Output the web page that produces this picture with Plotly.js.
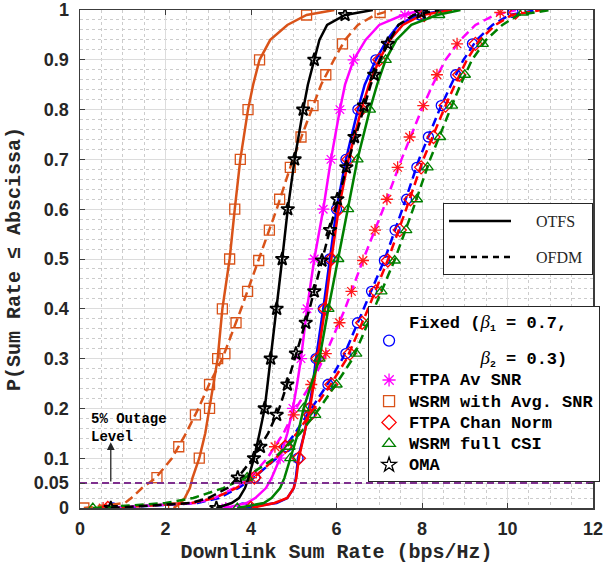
<!DOCTYPE html>
<html><head><meta charset="utf-8">
<script src="https://cdn.plot.ly/plotly-3.0.1.min.js"></script>
<style>html,body{margin:0;padding:0;background:#fff}#chart{width:608px;height:564px}</style>
</head><body><div id="chart"></div>
<script>
// Probability levels at which curve x values were read
const P_LINE = [0,0.01,0.02,0.04,0.06,0.1,0.15,0.2,0.25,0.3,0.4,0.5,0.6,0.7,0.8,0.85,0.9,0.94,0.97,0.99,1];
const P_MARK_OTFS = [0,0.1,0.2,0.3,0.4,0.5,0.6,0.7,0.8,0.9,0.99];
const P_MARK_OFDM = [0,0.061,0.123,0.187,0.248,0.31,0.372,0.435,0.497,0.558,0.62,0.684,0.745,0.808,0.87,0.932,0.995];

// Sum rate (bps/Hz) at P_LINE levels
const fixedOTFS   = [3.81,4.6,4.85,5.0,5.05,5.1,5.25,5.36,5.45,5.52,5.69,5.84,6.0,6.22,6.5,6.66,6.92,7.18,7.45,7.9,8.6];
const fixedOFDM   = [0.77,2.75,3.25,3.7,4.05,4.6,5.03,5.42,5.8,6.14,6.64,7.13,7.54,7.93,8.41,8.68,8.97,9.28,9.65,10.05,10.7];
const ftpaAvOTFS  = [3.41,3.9,4.1,4.35,4.48,4.68,4.85,4.98,5.08,5.17,5.31,5.48,5.69,5.87,6.08,6.2,6.4,6.68,7.0,7.55,8.0];
const ftpaAvOFDM  = [0.54,2.7,3.15,3.6,3.98,4.38,4.76,5.05,5.41,5.7,6.2,6.63,7.09,7.52,7.99,8.25,8.55,8.9,9.25,9.7,10.2];
const wsrmAvOTFS  = [2.19,2.35,2.45,2.57,2.63,2.79,2.93,3.03,3.13,3.22,3.33,3.5,3.62,3.75,3.93,4.05,4.2,4.45,4.85,5.3,5.95];
const wsrmAvOFDM  = [0.09,1.05,1.2,1.45,1.77,2.15,2.48,2.77,3.03,3.33,3.77,4.19,4.6,4.98,5.42,5.64,5.94,6.2,6.5,6.9,7.3];
const ftpaCnOTFS  = [4.0,4.55,4.85,5.0,5.06,5.12,5.25,5.38,5.47,5.56,5.73,5.88,6.05,6.28,6.58,6.76,7.0,7.25,7.55,8.0,8.7];
const ftpaCnOFDM  = [0.65,2.6,3.15,3.65,4.05,4.58,5.07,5.48,5.88,6.24,6.74,7.21,7.63,8.03,8.51,8.77,9.05,9.35,9.72,10.1,10.8];
const wsrmCsiOTFS = [3.68,4.3,4.48,4.68,4.78,4.92,5.1,5.23,5.42,5.6,5.81,6.04,6.27,6.49,6.78,6.95,7.15,7.4,7.75,8.35,8.9];
const wsrmCsiOFDM = [0.3,2.0,2.65,3.35,3.85,4.55,5.15,5.6,6.0,6.38,6.88,7.37,7.79,8.19,8.66,8.9,9.17,9.5,9.88,10.25,11.0];
const omaOTFS     = [3.19,3.55,3.72,3.86,3.94,4.07,4.2,4.32,4.39,4.46,4.6,4.73,4.86,5.02,5.22,5.33,5.48,5.6,5.78,6.2,6.85];
const omaOFDM     = [0.72,2.6,3.0,3.45,3.68,4.05,4.4,4.66,4.85,5.02,5.37,5.67,5.97,6.29,6.62,6.8,7.02,7.25,7.45,7.8,8.4];

// Marker positions (sum rate at P_MARK_* levels)
const fixedOTFS_m   = [3.81,5.1,5.36,5.52,5.69,5.84,6.0,6.22,6.5,6.92,7.95];
const fixedOFDM_m   = [0.77,4.09,4.83,5.37,5.8,6.22,6.49,6.82,7.12,7.37,7.64,7.88,8.15,8.45,8.79,9.18,10.13];
const ftpaAvOTFS_m  = [3.41,4.68,4.98,5.17,5.31,5.48,5.69,5.87,6.08,6.4,7.6];
const ftpaAvOFDM_m  = [0.54,4.0,4.56,5.0,5.41,5.75,6.07,6.35,6.62,6.9,7.18,7.43,7.71,8.03,8.35,8.82,9.83];
const wsrmAvOTFS_m  = [2.19,2.79,3.03,3.22,3.33,3.5,3.62,3.75,3.93,4.2,5.3];
const wsrmAvOFDM_m  = [0.09,1.8,2.31,2.7,3.03,3.39,3.65,3.92,4.18,4.43,4.67,4.92,5.17,5.45,5.75,6.14,7.02];
const ftpaCnOTFS_m  = [4.0,5.12,5.38,5.56,5.73,5.88,6.05,6.28,6.58,7.0,8.05];
const ftpaCnOFDM_m  = [0.65,4.08,4.8,5.38,5.88,6.31,6.6,6.92,7.2,7.48,7.73,7.98,8.27,8.55,8.87,9.25,10.19];
const wsrmCsiOTFS_m = [3.68,4.92,5.23,5.6,5.81,6.04,6.27,6.49,6.78,7.15,8.4];
const wsrmCsiOFDM_m = [0.3,3.91,4.9,5.5,6.0,6.46,6.75,7.05,7.36,7.63,7.88,8.13,8.42,8.7,9.0,9.42,10.36];
const omaOTFS_m     = [3.19,4.07,4.32,4.46,4.6,4.73,4.86,5.02,5.22,5.48,6.2];
const omaOFDM_m     = [0.72,3.69,4.22,4.6,4.85,5.05,5.28,5.48,5.66,5.85,6.02,6.23,6.42,6.64,6.88,7.2,7.98];

const OUTAGE = 0.05;
const X_RANGE = [0, 12];
const X_TICKS = [0,2,4,6,8,10,12];
const Y_TICKS = [0,0.05,0.1,0.2,0.3,0.4,0.5,0.6,0.7,0.8,0.9,1];
const Y_TICKTEXT = ['0','0.05','0.1','0.2','0.3','0.4','0.5','0.6','0.7','0.8','0.9','1'];

const BETA = '<span style="font-family:Liberation Serif;font-style:italic;font-weight:normal;font-size:19px">β</span>';
const NB = '\u00A0';
function big(t){ return '<span style="font-size:17px">' + t + '</span>'; }
const SCHEMES = [
  {name: big('Fixed (') + BETA + '<sub>1</sub>' + big(' = 0.7,') + '<br>' + NB + '<br>' + big(NB.repeat(7)) + BETA + '<sub>2</sub>' + big(' = 0.3)'),
   color:'#0000FF', symbol:'circle-open', otfs:[fixedOTFS,fixedOTFS_m], ofdm:[fixedOFDM,fixedOFDM_m], ofdmMarker:'#0000FF'},
  {name:big('FTPA Av SNR'), color:'#FF00FF', symbol:'asterisk-open', otfs:[ftpaAvOTFS,ftpaAvOTFS_m], ofdm:[ftpaAvOFDM,ftpaAvOFDM_m], ofdmMarker:'#FF1A1A'},
  {name:big('WSRM with Avg. SNR'), color:'#D95319', symbol:'square-open', otfs:[wsrmAvOTFS,wsrmAvOTFS_m], ofdm:[wsrmAvOFDM,wsrmAvOFDM_m], ofdmMarker:'#D95319'},
  {name:big('FTPA Chan Norm'), color:'#FF0000', symbol:'diamond-open', otfs:[ftpaCnOTFS,ftpaCnOTFS_m], ofdm:[ftpaCnOFDM,ftpaCnOFDM_m], ofdmMarker:'#FF0000'},
  {name:big('WSRM full CSI'), color:'#008000', symbol:'triangle-up-open', otfs:[wsrmCsiOTFS,wsrmCsiOTFS_m], ofdm:[wsrmCsiOFDM,wsrmCsiOFDM_m], ofdmMarker:'#008000'},
  {name:big('OMA'), color:'#000000', symbol:'star-open', otfs:[omaOTFS,omaOTFS_m], ofdm:[omaOFDM,omaOFDM_m], ofdmMarker:'#000000'}
];

const DASH = '9px,5px';
const traces = [];
SCHEMES.forEach(s => {
  [['otfs','solid',s.color,P_MARK_OTFS],['ofdm',DASH,s.ofdmMarker,P_MARK_OFDM]].forEach(([k,dash,mc,pm]) => {
    traces.push({x:s[k][0], y:P_LINE, type:'scatter', mode:'lines', showlegend:false, hoverinfo:'skip',
      line:{color:s.color, width:2.5, dash:dash}});
    traces.push({x:s[k][1], y:pm, type:'scatter', mode:'markers', showlegend:false, hoverinfo:'skip',
      marker:{symbol:s.symbol, size:10, color:mc, line:{width:s.symbol==='star-open'?1.8:1.3, color:mc}}});
  });
});
// outage level line
traces.push({x:X_RANGE, y:[OUTAGE,OUTAGE], type:'scatter', mode:'lines', showlegend:false, hoverinfo:'skip',
  line:{color:'#7E2F8E', width:2, dash:'7px,4px'}});
// legend 1: schemes (markers only)
SCHEMES.forEach(s => {
  traces.push({x:[null], y:[null], type:'scatter', mode:'markers', name:s.name, legend:'legend',
    marker:{symbol:s.symbol, size:11, color:s.color, line:{width:1.3, color:s.color}}});
});
// legend 2: waveforms (lines only)
traces.push({x:[null], y:[null], type:'scatter', mode:'lines', name:NB.repeat(5)+'OTFS'+NB, legend:'legend2', legendgroup:'a', line:{color:'#000', width:2.5}});
traces.push({x:[null], y:[null], type:'scatter', mode:'lines', name:NB.repeat(5)+'OFDM'+NB, legend:'legend2', legendgroup:'b', line:{color:'#000', width:2.5, dash:'6px,5px'}});

const axisCommon = {
  showgrid:true, gridcolor:'#dcdcdc', gridwidth:1, zeroline:false,
  showline:true, linecolor:'#3c3c3c', linewidth:1.5, mirror:'ticks',
  ticks:'inside', ticklen:5, tickwidth:1, tickcolor:'#3c3c3c', ticklabeloverflow:'allow',
  tickfont:{family:'Liberation Sans', size:18, weight:'bold', color:'#262626'}
};
const titleFont = {family:'Liberation Mono', size:20, weight:'bold', color:'#262626'};

const layout = {
  width:608, height:564,
  margin:{l:80, r:8, t:10, b:56, pad:0},
  paper_bgcolor:'#ffffff', plot_bgcolor:'#ffffff',
  showlegend:true,
  xaxis:Object.assign({}, axisCommon, {
    range:X_RANGE, tickmode:'array', tickvals:X_TICKS, ticktext:X_TICKS.map(String), ticklabelstandoff:4,
    minor:{tickmode:'linear', tick0:0, dtick:0.5, showgrid:true, gridcolor:'#cccccc', griddash:'dot', gridwidth:1, ticks:''},
    title:{text:'Downlink Sum Rate (bps/Hz)', font:titleFont, standoff:8}
  }),
  yaxis:Object.assign({}, axisCommon, {
    range:[0,1], tickmode:'array', tickvals:Y_TICKS, ticktext:Y_TICKTEXT, ticklabelstandoff:6,
    minor:{tickmode:'linear', tick0:0, dtick:0.02, showgrid:true, gridcolor:'#cccccc', griddash:'dot', gridwidth:1, ticks:''},
    title:{text:'P(Sum Rate ≤ Abscissa)', font:titleFont, standoff:8}
  }),
  legend:{x:0.5615, y:0.406, xanchor:'left', yanchor:'top', bgcolor:'#ffffff', bordercolor:'#262626', borderwidth:1,
    font:{family:'Liberation Mono', size:14, weight:'bold', color:'#000'}, itemwidth:30, valign:'middle'},
  legend2:{x:1, y:0.612, xanchor:'right', yanchor:'top', bgcolor:'#ffffff', bordercolor:'#262626', borderwidth:1,
    font:{family:'Liberation Serif', size:16, color:'#262626'}, traceorder:'grouped', tracegroupgap:12, itemwidth:62},
  annotations:[
    {x:0.21, y:0.161, xref:'x', yref:'y', xanchor:'left', yanchor:'middle', align:'left', showarrow:false,
     text:'5% Outage<br>Level', font:{family:'Liberation Mono', size:14, weight:'bold', color:'#000'}},
    {x:0.72, y:0.132, ax:0.72, ay:OUTAGE, xref:'x', yref:'y', axref:'x', ayref:'y', text:'', showarrow:true,
     arrowhead:2, arrowsize:1.2, arrowwidth:1.3, arrowcolor:'#262626'}
  ]
};

Plotly.newPlot('chart', traces, layout, {staticPlot:true, displayModeBar:false});
</script>
</body></html>
